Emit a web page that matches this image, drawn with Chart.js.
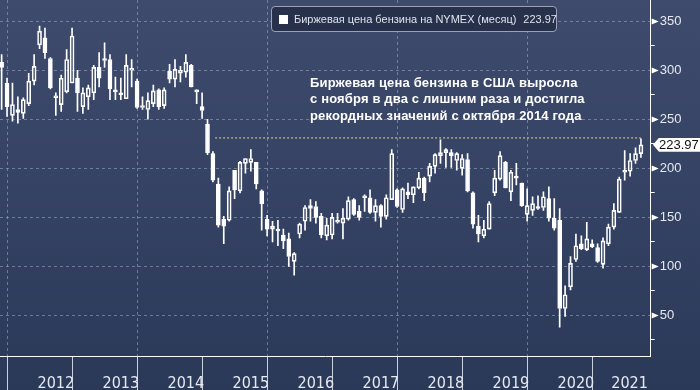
<!DOCTYPE html>
<html>
<head>
<meta charset="utf-8">
<script src="https://cdn.jsdelivr.net/npm/chart.js@4.4.1/dist/chart.umd.min.js"></script>
<style>
  html, body { margin: 0; padding: 0; }
  body { width: 700px; height: 390px; overflow: hidden; background: linear-gradient(#3e4b6d, #2b3959); font-family: "Liberation Sans", Arial, sans-serif; }
  #wrap { position: relative; width: 700px; height: 390px; }
  #legend { position: absolute; left: 271px; top: 6px; width: 284px; height: 24px; border: 1px solid #9aa2b4; border-radius: 4px; background: #27314b; color: #dfe3ec; font-size: 11px; line-height: 24px; white-space: nowrap; }
  #legend .sq { position: absolute; left: 7px; top: 8px; width: 9px; height: 9px; background: #fff; }
  #legend .txt { position: absolute; left: 22px; top: 0; }
  #legend .val { margin-left: 7px; }
  #note { position: absolute; left: 310px; top: 75px; color: #fff; font-weight: bold; font-size: 13px; line-height: 16.4px; letter-spacing: 0.15px; white-space: nowrap; }
  #tag { position: absolute; left: 653px; top: 138px; width: 47px; height: 14px; background: #fff; color: #111; font-size: 13px; line-height: 14px; padding-left: 6px; box-sizing: border-box; clip-path: polygon(0 50%, 6px 0, 100% 0, 100% 100%, 6px 100%); }
</style>
</head>
<body>
<div id="wrap">
  <canvas id="chart"></canvas>
  <div id="legend"><span class="sq"></span><span class="txt">Биржевая цена бензина на NYMEX (месяц)<span class="val">223.97</span></span></div>
  <div id="note">Биржевая цена бензина в США выросла<br>с ноября в два с лишним раза и достигла<br>рекордных значений с октября 2014 года</div>
  <div id="tag">223.97</div>
</div>
<script>
// monthly candles, first one = Aug 2011 (bars dated at month end)
const startMonth = 8;
const years = ['2012', '2013', '2014', '2015', '2016', '2017', '2018', '2019', '2020', '2021'];

const open = [308, 287, 254, 260, 256, 266, 289, 326, 333, 312,
  274, 265, 278, 287, 292, 263, 273, 277, 303, 311,
  311, 279, 276, 271, 300, 289, 264, 260, 266, 280,
  264, 299, 291, 297, 298, 305, 280, 263, 245, 215,
  184, 148, 147, 198, 177, 205, 206, 206, 177, 148,
  138, 138, 132, 128, 105, 133, 146, 162, 161, 151,
  131, 132, 147, 144, 148, 168, 156, 172, 170, 155,
  162, 151, 168, 178, 158, 176, 173, 180, 190, 192,
  202, 213, 216, 216, 208, 200, 209, 175, 141, 131,
  138, 175, 189, 206, 176, 191, 185, 153, 157, 160,
  160, 169, 149, 147, 57, 79, 107, 123, 117, 123,
  119, 102, 123, 140, 155, 198, 197, 208, 215];
const high = [316, 292, 287, 273, 272, 297, 316, 345, 343, 313,
  277, 295, 321, 343, 300, 282, 285, 305, 318, 328,
  316, 293, 292, 316, 311, 291, 273, 277, 285, 281,
  282, 306, 311, 304, 316, 306, 280, 277, 250, 217,
  190, 151, 181, 198, 207, 210, 219, 206, 178, 152,
  146, 147, 138, 134, 114, 144, 162, 168, 166, 154,
  149, 154, 154, 159, 171, 169, 162, 173, 178, 168,
  163, 173, 219, 179, 180, 185, 181, 196, 191, 205,
  215, 229, 220, 219, 216, 214, 215, 176, 152, 147,
  166, 198, 217, 207, 198, 205, 185, 179, 171, 172,
  176, 181, 169, 159, 80, 110, 133, 131, 145, 127,
  123, 129, 143, 164, 191, 218, 215, 221, 230];
const low = [260, 253, 248, 246, 251, 264, 285, 322, 312, 281,
  254, 258, 277, 287, 258, 256, 260, 270, 283, 303,
  270, 270, 270, 271, 283, 261, 260, 250, 263, 260,
  261, 287, 283, 288, 293, 283, 266, 251, 214, 186,
  140, 123, 146, 169, 175, 195, 197, 179, 137, 131,
  125, 121, 118, 100, 91, 129, 137, 146, 144, 129,
  127, 128, 144, 128, 147, 152, 147, 156, 154, 146,
  140, 148, 168, 160, 155, 169, 165, 179, 167, 186,
  195, 205, 201, 201, 198, 193, 176, 139, 125, 129,
  138, 172, 188, 180, 167, 183, 161, 146, 152, 158,
  157, 146, 137, 38, 49, 76, 105, 117, 116, 119,
  104, 98, 121, 138, 155, 188, 192, 205, 211];
const close = [303, 263, 265, 257, 270, 289, 304, 340, 318, 282,
  272, 292, 311, 335, 277, 277, 282, 303, 292, 310,
  281, 278, 275, 305, 302, 262, 262, 269, 279, 263,
  280, 291, 301, 300, 308, 283, 278, 259, 216, 188,
  142, 141, 177, 178, 206, 210, 210, 184, 164, 138,
  141, 136, 126, 110, 113, 143, 160, 159, 150, 132,
  142, 150, 145, 149, 167, 153, 150, 170, 155, 162,
  151, 170, 215, 161, 179, 173, 181, 190, 175, 202,
  214, 216, 219, 213, 215, 210, 177, 143, 133, 138,
  164, 190, 213, 180, 196, 190, 162, 162, 164, 159,
  171, 149, 139, 57, 71, 103, 121, 118, 128, 120,
  105, 126, 140, 157, 189, 196, 208, 215, 223.97];

const yTicks = [25, 50, 75, 100, 125, 150, 175, 200, 225, 250, 275, 300, 325, 350];
const refLevel = 231;      // yellow dotted level
const refFrom = 39.4, refTo = 118;
const xMin = -0.3, xMax = 119.8, yMin = 7.8, yMax = 371.7;

const gridColor = 'rgba(160,172,198,0.55)';
const sepColor = '#c9d0de';
const labelColor = '#e6e9f0';

// year boundaries (Dec candle of previous year) and centres for labels
const boundary = years.map((y, k) => (12 - startMonth) + 12 * k);
const labelPos = years.map((y, k) => ((boundary[k]) + (k + 1 < years.length ? boundary[k + 1] : xMax)) / 2);

const upperWick = [], lowerWick = [], body = [];
open.forEach((o, i) => {
  const top = Math.max(o, close[i]), bot = Math.min(o, close[i]);
  upperWick.push({ x: i, y: [top, high[i]] });
  lowerWick.push({ x: i, y: [low[i], bot] });
  body.push({ x: i, y: [o, close[i]] });
});
const bodyFill = open.map((o, i) => close[i] < o ? '#ffffff' : 'rgba(0,0,0,0)');

const tickArrows = {
  id: 'tickArrows',
  afterDraw(chart) {
    const y = chart.scales.y, ctx = chart.ctx;
    ctx.save();
    ctx.fillStyle = '#ffffff';
    yTicks.filter(v => v % 50 === 0).forEach(v => {
      const py = Math.round(y.getPixelForValue(v)) + 0.5;
      ctx.beginPath();
      ctx.moveTo(y.left + 1, py - 3);
      ctx.lineTo(y.left + 8, py);
      ctx.lineTo(y.left + 1, py + 3);
      ctx.closePath();
      ctx.fill();
    });
    ctx.restore();
    document.getElementById('tag').style.top = (y.getPixelForValue(close[close.length - 1]) - 7) + 'px';
  }
};

Chart.defaults.font.family = '"Liberation Sans", Arial, sans-serif';

new Chart(document.getElementById('chart'), {
  type: 'bar',
  data: {
    datasets: [
      { data: upperWick, backgroundColor: '#ffffff', barThickness: 1, grouped: false },
      { data: lowerWick, backgroundColor: '#ffffff', barThickness: 1, grouped: false },
      { data: body, backgroundColor: bodyFill, borderColor: '#ffffff', borderWidth: 1,
        borderSkipped: false, barThickness: 4, minBarLength: 2, grouped: false },
      { type: 'line', data: [{ x: refFrom, y: refLevel }, { x: refTo, y: refLevel }],
        borderColor: '#e4de80', borderWidth: 1, borderDash: [2, 2], pointRadius: 0 }
    ]
  },
  options: {
    responsive: true,
    maintainAspectRatio: false,
    animation: false,
    layout: { padding: 0 },
    plugins: { legend: { display: false }, tooltip: { enabled: false } },
    scales: {
      x: {
        type: 'linear', min: xMin, max: xMax, offset: false,
        afterBuildTicks: axis => {
          axis.ticks = boundary.concat(labelPos).sort((a, b) => a - b).map(v => ({ value: v }));
        },
        afterFit: axis => { axis.height = 33.3; axis.paddingLeft = 0; axis.paddingRight = 0; },
        grid: {
          drawTicks: true, tickLength: 34,
          color: ctx => { const k = boundary.indexOf(ctx.tick && ctx.tick.value); return k >= 0 && k % 2 === 0 ? gridColor : 'rgba(0,0,0,0)'; },
          tickColor: ctx => boundary.indexOf(ctx.tick && ctx.tick.value) >= 0 ? sepColor : 'rgba(0,0,0,0)'
        },
        border: { display: true, color: '#ffffff', width: 1, dash: [3, 3] },
        ticks: {
          autoSkip: false, maxRotation: 0, minRotation: 0, padding: -16,
          color: labelColor,
          font: { family: '"Liberation Sans Narrow", "DejaVu Sans Condensed", "Arial Narrow", sans-serif', size: 16 },
          callback: v => { const k = labelPos.indexOf(v); return k >= 0 ? years[k] : ''; }
        }
      },
      y: {
        position: 'right', min: yMin, max: yMax,
        afterBuildTicks: axis => { axis.ticks = yTicks.map(v => ({ value: v })); },
        afterFit: axis => { axis.width = 49.3; axis.paddingTop = 0; axis.paddingBottom = 0; },
        grid: {
          drawTicks: true, tickLength: 4,
          color: ctx => ctx.tick && ctx.tick.value % 50 === 0 ? gridColor : 'rgba(0,0,0,0)',
          tickColor: ctx => ctx.tick && ctx.tick.value % 50 === 0 ? 'rgba(0,0,0,0)' : '#ffffff'
        },
        border: { display: true, color: '#ffffff', width: 1, dash: [3, 3] },
        ticks: {
          padding: 5, color: labelColor, font: { size: 13 },
          callback: v => v % 50 === 0 ? String(v) : ''
        }
      }
    }
  },
  plugins: [tickArrows]
});
</script>
</body>
</html>
